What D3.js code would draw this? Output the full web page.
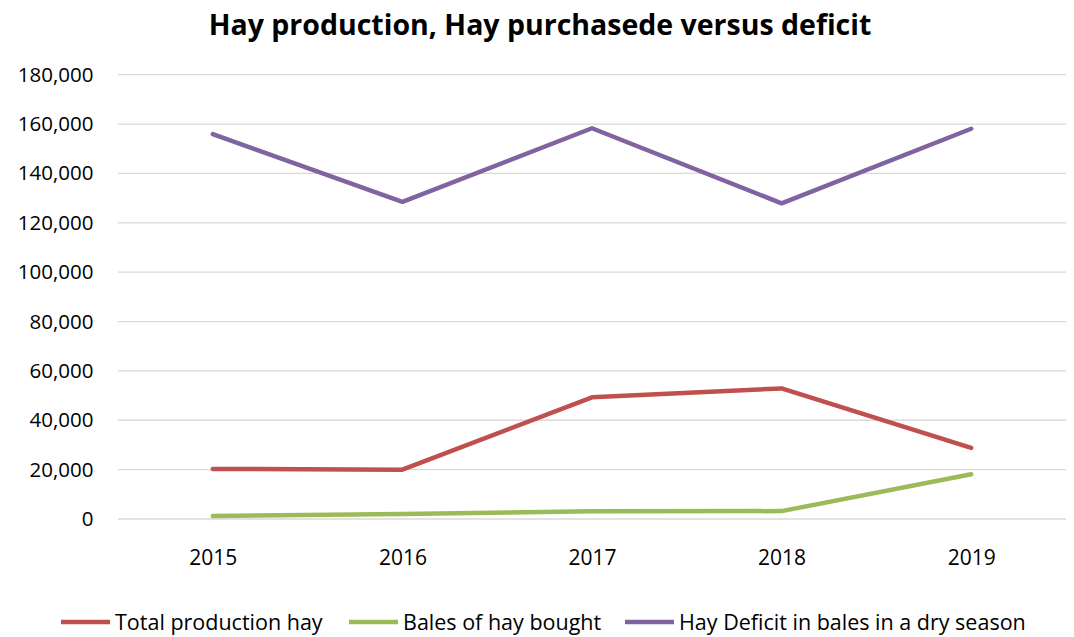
<!DOCTYPE html>
<html>
<head>
<meta charset="utf-8">
<script src="https://cdn.jsdelivr.net/npm/d3@7"></script>
<style>
  html, body { margin: 0; padding: 0; background: #fff; }
  svg { display: block; font-family: "Open Sans", "Liberation Sans", sans-serif; }
</style>
</head>
<body>
<svg id="chart" width="1074" height="637"></svg>
<script>
// Hay figures per season
const years = ["2015", "2016", "2017", "2018", "2019"];
const totalProduction = [20300, 20000, 49300, 52900, 28800];
const balesBought = [1200, 2000, 3100, 3200, 18100];
const hayDeficit = [155900, 128500, 158300, 127900, 158100];
const yTicks = [0, 20000, 40000, 60000, 80000, 100000, 120000, 140000, 160000, 180000];
const seriesNames = ["Total production hay", "Bales of hay bought", "Hay Deficit in bales in a dry season"];
const seriesColors = ["#C0504D", "#9BBB59", "#8064A2"];

const series = [totalProduction, balesBought, hayDeficit].map((vals, i) => ({
  name: seriesNames[i],
  color: seriesColors[i],
  values: vals
}));

const svg = d3.select("#chart");
const plot = { left: 118, right: 1066, top: 74.7, bottom: 519 };

const x = d3.scalePoint().domain(years).range([plot.left, plot.right]).padding(0.5);
const y = d3.scaleLinear().domain([0, 180000]).range([plot.bottom, plot.top]);

// Title
svg.append("text")
  .attr("x", 540).attr("y", 35)
  .attr("text-anchor", "middle")
  .attr("font-size", 28.5).attr("font-weight", "bold")
  .attr("fill", "#000")
  .text("Hay production, Hay purchasede versus deficit");

// Horizontal gridlines
svg.append("g")
  .selectAll("line")
  .data(yTicks)
  .join("line")
  .attr("x1", plot.left).attr("x2", plot.right)
  .attr("y1", d => y(d)).attr("y2", d => y(d))
  .attr("stroke", "#D9D9D9").attr("stroke-width", 1.3);

// Y axis labels
const yAxis = d3.axisLeft(y).tickValues(yTicks).tickSize(0).tickPadding(0)
  .tickFormat(d3.format(","));
const gy = svg.append("g").attr("transform", `translate(93.5,0)`).call(yAxis);
gy.select(".domain").remove();
gy.selectAll("text").attr("font-size", 20.5).attr("fill", "#000")
  .attr("font-family", "'Open Sans', sans-serif");

// X axis labels
const xAxis = d3.axisBottom(x).tickSize(0).tickPadding(0);
const gx = svg.append("g").attr("transform", `translate(0,${550})`).call(xAxis);
gx.select(".domain").remove();
gx.selectAll("text").attr("font-size", 21).attr("fill", "#000")
  .attr("font-family", "'Open Sans', sans-serif");

// Series lines
const line = d3.line().x((d, i) => x(years[i])).y(d => y(d));
svg.append("g")
  .selectAll("path")
  .data(series)
  .join("path")
  .attr("d", d => line(d.values))
  .attr("fill", "none")
  .attr("stroke", d => d.color)
  .attr("stroke-width", 4.5)
  .attr("stroke-linejoin", "round")
  .attr("stroke-linecap", "round");

// Legend
const legendX = [61, 349, 625];
const legend = svg.append("g").selectAll("g")
  .data(series)
  .join("g")
  .attr("transform", (d, i) => `translate(${legendX[i]},622)`);
legend.append("line")
  .attr("x1", 0).attr("x2", 49)
  .attr("stroke", d => d.color).attr("stroke-width", 4.5);
legend.append("text")
  .attr("x", 54).attr("y", 8)
  .attr("font-size", 21.5).attr("fill", "#000")
  .text(d => d.name);
</script>
</body>
</html>
